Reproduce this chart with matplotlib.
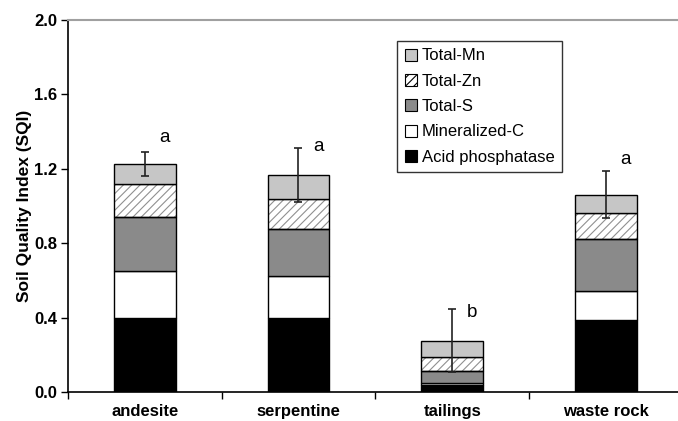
import numpy as np
import matplotlib
matplotlib.use("Agg")
import matplotlib.pyplot as plt
from matplotlib.patches import Patch

plt.rcParams['font.family'] = ['Liberation Sans', 'DejaVu Sans']

# data
sites = ['andesite', 'serpentine', 'tailings', 'waste rock']
acid_phosphatase = [0.396, 0.396, 0.035, 0.387]
mineralized_c = [0.254, 0.229, 0.012, 0.158]
total_s = [0.293, 0.250, 0.068, 0.279]
total_zn = [0.175, 0.165, 0.071, 0.136]
total_mn = [0.109, 0.125, 0.090, 0.101]
sqi_err = [0.064, 0.145, 0.170, 0.125]
letters = ['a', 'a', 'b', 'a']
letter_y = [1.37, 1.32, 0.425, 1.25]

series = [
    ('Acid phosphatase', acid_phosphatase, 'black', None),
    ('Mineralized-C', mineralized_c, 'white', None),
    ('Total-S', total_s, '#8a8a8a', None),
    ('Total-Zn', total_zn, 'white', '////'),
    ('Total-Mn', total_mn, '#c6c6c6', None),
]

fig = plt.figure(figsize=(6.78, 4.21), dpi=100)
ax = fig.add_axes([0.1003, 0.0689, 0.8997, 0.8836])

x = np.arange(len(sites))
width = 0.40
bottom = np.zeros(len(sites))
plt.rcParams['hatch.linewidth'] = 0.8
for name, vals, col, hatch in series:
    vals = np.array(vals)
    if hatch:
        # grey hatch first, black outline on top
        ax.bar(x, vals, width, bottom=bottom, color=col, edgecolor='#909090',
               hatch=hatch, linewidth=0, zorder=2)
        ax.bar(x, vals, width, bottom=bottom, fill=False, edgecolor='black',
               linewidth=1.0, zorder=3)
    else:
        ax.bar(x, vals, width, bottom=bottom, color=col, edgecolor='black',
               linewidth=1.0, zorder=3)
    bottom = bottom + vals

totals = bottom
ax.errorbar(x, totals, yerr=sqi_err, fmt='none', ecolor='#222222',
            elinewidth=1.2, capsize=3, capthick=1.2, zorder=4)

for xi, lab, ly in zip(x, letters, letter_y):
    ax.text(xi + 0.13, ly, lab, fontsize=13.5, ha='center', va='center')

ax.set_xlim(-0.5, 3.47)
ax.set_ylim(0, 2.0)
ax.set_yticks(np.arange(0, 2.01, 0.4))
ax.set_yticklabels(['%.1f' % v for v in np.arange(0, 2.01, 0.4)],
                   fontsize=12, fontweight='bold')
ax.set_xticks(x)
ax.set_xticklabels(sites, fontsize=12, fontweight='bold')
ax.set_xticks(np.arange(-0.5, 3.0, 1.0), minor=True)
ax.tick_params(axis='x', which='major', length=0, pad=9)
ax.tick_params(axis='x', which='minor', length=5, width=1, direction='out')
ax.tick_params(axis='y', length=5, width=1, direction='out', pad=3)
ax.set_ylabel('Soil Quality Index (SQI)', fontsize=12.5, fontweight='bold', labelpad=1)

ax.spines['right'].set_visible(False)
ax.spines['top'].set_color('#a0a0a0')
ax.spines['top'].set_linewidth(1.5)
ax.spines['left'].set_linewidth(1.2)
ax.spines['bottom'].set_linewidth(1.2)

handles = []
for name, vals, col, hatch in reversed(series):
    handles.append(Patch(facecolor=col, edgecolor='black', hatch=hatch,
                         linewidth=0.8, label=name))
leg = fig.legend(handles=handles, loc='upper left',
                 bbox_to_anchor=(397 / 678, 1 - 41 / 421),
                 fontsize=12, frameon=True, fancybox=False,
                 handlelength=0.75, handleheight=0.75, handletextpad=0.3,
                 labelspacing=0.62, borderpad=0.45, borderaxespad=0)
leg.get_frame().set_edgecolor('black')
leg.get_frame().set_linewidth(1.0)

fig.savefig('out.png', dpi=100)
